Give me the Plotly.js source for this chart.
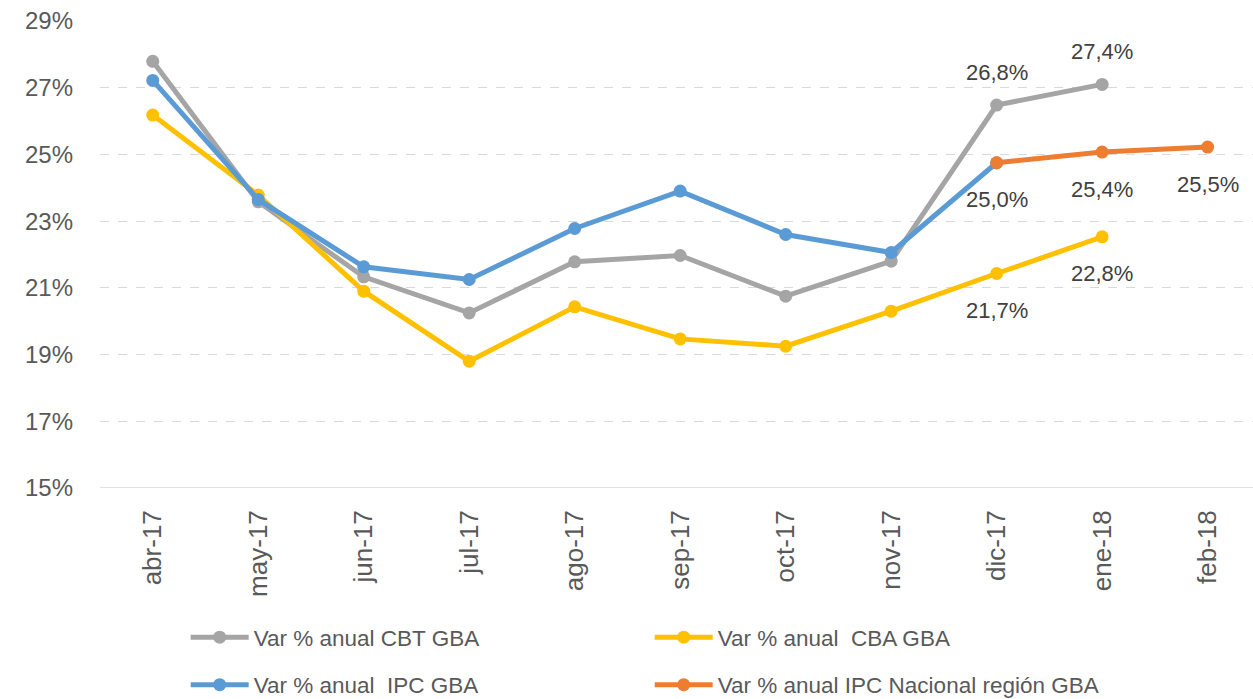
<!DOCTYPE html>
<html>
<head>
<meta charset="utf-8">
<script src="https://cdn.plot.ly/plotly-3.0.1.min.js"></script>
<style>html,body{margin:0;padding:0;background:#fff;}#chart{width:1253px;height:699px;}</style>
</head>
<body>
<div id="chart"></div>
<script>
const months = ["abr-17","may-17","jun-17","jul-17","ago-17","sep-17","oct-17","nov-17","dic-17","ene-18","feb-18"];
const cbt = [27.79, 23.58, 21.33, 20.25, 21.78, 21.97, 20.75, 21.8, 26.48, 27.1, null];
const cba = [26.18, 23.78, 20.9, 18.8, 20.43, 19.47, 19.25, 20.3, 21.43, 22.53, null];
const ipc = [27.22, 23.65, 21.63, 21.25, 22.78, 23.9, 22.6, 22.06, 24.75, null, null];
const ipcNac = [null, null, null, null, null, null, null, null, 24.75, 25.07, 25.22];
const cbtLabels = [null,null,null,null,null,null,null,null,"26,8%","27,4%",null];
const cbaLabels = [null,null,null,null,null,null,null,null,"21,7%","22,8%",null];
const ipcNacLabels = [null,null,null,null,null,null,null,null,"25,0%","25,4%","25,5%"];
const yTicks = [15,17,19,21,23,25,27,29];
const yTickText = ["15%","17%","19%","21%","23%","25%","27%","29%"];

const names = ["Var % anual CBT GBA","Var % anual  CBA GBA","Var % anual  IPC GBA","Var % anual IPC Nacional región GBA"];
const colors = ["#A5A5A5","#FFC000","#5B9BD5","#ED7D31"];
const legendIds = ["legend","legend","legend2","legend2"];
const series = [cbt, cba, ipc, ipcNac];

const traces = series.map((s, i) => ({
  type: "scatter", mode: "lines+markers", x: months, y: s, name: names[i],
  line: {color: colors[i], width: 5}, marker: {color: colors[i], size: 13},
  connectgaps: false, hoverinfo: "skip", legend: legendIds[i]
}));

const annotations = [];
function addLabels(vals, labels, shift) {
  labels.forEach((t, i) => {
    if (t !== null) annotations.push({x: months[i], y: vals[i], xref: "x", yref: "y", text: t,
      showarrow: false, yshift: shift, font: {family: "Liberation Sans, Arial, sans-serif", size: 22, color: "#404040"}});
  });
}
addLabels(cbt, cbtLabels, 33);
addLabels(cba, cbaLabels, -37);
addLabels(ipcNac, ipcNacLabels, -37);

const legendBase = {orientation: "h", xref: "container", yref: "container", x: 0.1482, xanchor: "left", yanchor: "top",
  entrywidth: 391, entrywidthmode: "pixels", itemwidth: 58, font: {size: 22.5, color: "#595959"}, bgcolor: "rgba(0,0,0,0)"};

const layout = {
  width: 1253, height: 699,
  margin: {l: 100, r: 0, t: 20.7, b: 211.3},
  paper_bgcolor: "#fff", plot_bgcolor: "#fff",
  font: {family: "Liberation Sans, Arial, sans-serif", color: "#595959"},
  xaxis: {type: "category", range: [-0.5, 10.43], showgrid: false, zeroline: false,
    showline: false, ticks: "", tickangle: -90, tickfont: {size: 26, color: "#595959"}, ticklabelstandoff: 16, fixedrange: true},
  yaxis: {range: [15, 29], tickvals: yTicks, ticktext: yTickText, showgrid: true, gridcolor: "#D9D9D9",
    griddash: "dash", gridwidth: 1, zeroline: false, showline: false, ticks: "",
    tickfont: {size: 24, color: "#595959"}, ticklabelstandoff: 26, fixedrange: true},
  shapes: [{type: "line", xref: "paper", yref: "y", x0: 0, x1: 1, y0: 15, y1: 15, line: {color: "#D9D9D9", width: 1.5}}],
  showlegend: true,
  legend: Object.assign({}, legendBase, {y: 1 - 616/699}),
  legend2: Object.assign({}, legendBase, {y: 1 - 663.5/699}),
  annotations: annotations
};
Plotly.newPlot("chart", traces, layout, {displayModeBar: false, staticPlot: true});
</script>
</body>
</html>
